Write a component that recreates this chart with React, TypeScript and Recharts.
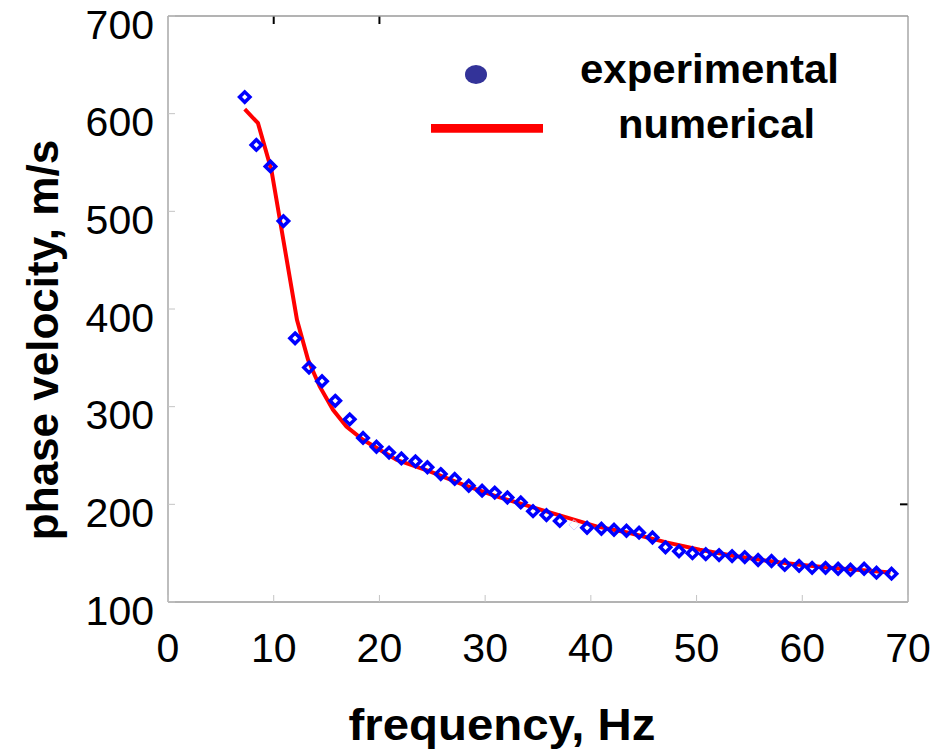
import React from 'react';
import { ComposedChart, Line, Scatter, XAxis, YAxis, Legend, ReferenceLine } from 'recharts';

// experimental points (frequency in Hz, phase velocity in m/s)
const expFreq = [
  7.26, 8.36, 9.69, 10.92, 12.02, 13.34, 14.57, 15.82, 17.19, 18.45,
  19.72, 20.91, 22.08, 23.41, 24.54, 25.8, 27.12, 28.45, 29.71, 30.91,
  32.11, 33.37, 34.53, 35.8, 37.06, 38.41, 39.64, 41.0, 42.19, 43.37,
  44.56, 45.83, 47.06, 48.34, 49.61, 50.87, 52.13, 53.36, 54.56, 55.82,
  57.09, 58.34, 59.7, 60.93, 62.2, 63.39, 64.56, 65.85, 67.02, 68.44,
];
const expVel = [
  617, 568, 546, 490, 370, 340, 326, 306, 287, 268,
  259, 253, 247, 244, 238, 231, 226, 219, 214, 212,
  207, 202, 193, 189, 183, 179, 176, 175, 174, 173,
  171, 166, 156, 152, 150, 149, 148, 147, 146, 143,
  142, 138, 137, 135, 135, 134, 133, 134, 130, 129,
];
// one point in the reference is drawn almost invisibly
const FAINT_INDEX = 25;

// numerical curve
const numFreq = [
  7.26, 8.51, 9.78, 12.2, 13.25, 14.35, 15.61, 16.88, 18.45, 21.61,
  24.76, 27.91, 31.07, 34.22, 37.37, 40.53, 43.68, 47.15, 50.3, 53.45,
  56.61, 59.76, 62.91, 66.07, 68.34,
];
const numVel = [
  604.6, 590.3, 542.5, 388.9, 348, 320.7, 296.8, 279.7, 266.1, 245.6,
  233.7, 220.1, 208.1, 197.9, 187.6, 177.4, 170.6, 161, 153.5, 147.4,
  142.3, 138.2, 134.8, 132.3, 130.3,
];

const xTicks = [0, 10, 20, 30, 40, 50, 60, 70];
const yTicks = [100, 200, 300, 400, 500, 600, 700];
const xTitle = 'frequency, Hz';
const yTitle = 'phase velocity, m/s';
const legendLabels = ['experimental', 'numerical'];

const expData = expFreq.map((f, i) => ({ f, v: expVel[i], faint: i === FAINT_INDEX }));
const numData = numFreq.map((f, i) => ({ f, v: numVel[i] }));

const FONT = '"Liberation Sans", Arial, Helvetica, sans-serif';
const BORDER = '#9a9a9a';
const INNER_TICK = '#c4c4c4';

const YTick = (props: any) => {
  const { x, y, payload } = props;
  const axisX = x + 14;
  return (
    <g>
      <line x1={axisX} x2={axisX + 7} y1={y} y2={y} stroke={INNER_TICK} strokeWidth={1} />
      <text x={x} y={y + 8} dy="0.355em" textAnchor="end" fontSize={41} fontFamily={FONT} fill="#000">
        {payload.value}
      </text>
    </g>
  );
};

const XTick = (props: any) => {
  const { x, y, payload } = props;
  return (
    <g>
      <line x1={x} x2={x} y1={y} y2={y - 7} stroke={INNER_TICK} strokeWidth={1} />
      <text x={x} y={y + 60} textAnchor="middle" fontSize={41} fontFamily={FONT} fill="#000">
        {payload.value}
      </text>
    </g>
  );
};

const Diamond = (props: any) => {
  const { cx, cy, payload } = props;
  if (cx == null || cy == null) return null;
  const r = 5.2;
  const faint = payload && payload.faint;
  return (
    <path
      d={`M${cx},${cy - r}L${cx + r},${cy}L${cx},${cy + r}L${cx - r},${cy}Z`}
      fill="none"
      stroke={faint ? '#d6d6ff' : '#0000ff'}
      strokeWidth={faint ? 1 : 3.5}
    />
  );
};

const LegendContent = () => (
  <svg width={943} height={160} style={{ display: 'block' }}>
    <ellipse cx={476} cy={74.5} rx={11} ry={9.5} fill="#333399" />
    <text x={580} y={82.7} fontSize={41} fontWeight="bold" fontFamily={FONT} fill="#000"
      textLength={259} lengthAdjust="spacingAndGlyphs">
      {legendLabels[0]}
    </text>
    <line x1={431} x2={543} y1={128.3} y2={128.3} stroke="#ff0000" strokeWidth={8.7} />
    <text x={618} y={138.3} fontSize={41} fontWeight="bold" fontFamily={FONT} fill="#000"
      textLength={197} lengthAdjust="spacingAndGlyphs">
      {legendLabels[1]}
    </text>
  </svg>
);

const YTitle = (props: any) => {
  const vb = props.viewBox || { x: 0, y: 16, width: 168, height: 586 };
  const cx = vb.x + 58;
  const cy = vb.y + vb.height / 2 + 31;
  return (
    <text x={cx} y={cy} transform={`rotate(-90, ${cx}, ${cy})`} textAnchor="middle"
      fontSize={44} fontWeight="bold" fontFamily={FONT} fill="#000">
      {yTitle}
    </text>
  );
};

const XTitle = (props: any) => {
  const vb = props.viewBox || { x: 168, y: 602, width: 740, height: 148 };
  const cx = vb.x + vb.width / 2 - 36;
  const cy = vb.y + 138;
  return (
    <text x={cx} y={cy} textAnchor="middle" fontSize={44} fontWeight="bold" fontFamily={FONT} fill="#000"
      textLength={307} lengthAdjust="spacingAndGlyphs">
      {xTitle}
    </text>
  );
};

export default function App() {
  return (
    <div style={{ position: 'absolute', left: 0, top: 0, width: 943, height: 750, background: '#fff' }}>
      <ComposedChart
        width={943}
        height={750}
        margin={{ top: 16, right: 35, bottom: 0, left: 0 }}
        style={{ fontFamily: FONT }}
      >
        <XAxis
          xAxisId="b"
          dataKey="f"
          type="number"
          domain={[0, 70]}
          ticks={xTicks}
          allowDataOverflow
          height={148}
          tickSize={0}
          tickMargin={0}
          tickLine={false}
          axisLine={{ stroke: BORDER, strokeWidth: 1.3 }}
          tick={<XTick />}
          interval={0}
          label={{ content: (p: any) => <XTitle {...p} /> }}
        />
        <XAxis
          xAxisId="t"
          orientation="top"
          type="number"
          domain={[0, 70]}
          ticks={xTicks}
          allowDataOverflow
          mirror
          height={2}
          tick={false}
          tickSize={7}
          tickLine={{ stroke: INNER_TICK }}
          axisLine={{ stroke: BORDER, strokeWidth: 1.3 }}
          interval={0}
        />
        <YAxis
          yAxisId="l"
          dataKey="v"
          type="number"
          domain={[100, 700]}
          ticks={yTicks}
          allowDataOverflow
          width={168}
          tickSize={0}
          tickMargin={14}
          tickLine={false}
          axisLine={{ stroke: BORDER, strokeWidth: 1.3 }}
          tick={<YTick />}
          interval={0}
          label={{ content: (p: any) => <YTitle {...p} /> }}
        />
        <YAxis
          yAxisId="r"
          orientation="right"
          type="number"
          domain={[100, 700]}
          ticks={yTicks}
          allowDataOverflow
          mirror
          width={2}
          tick={false}
          tickSize={7}
          tickLine={{ stroke: INNER_TICK }}
          axisLine={{ stroke: BORDER, strokeWidth: 1.3 }}
          interval={0}
        />
        <ReferenceLine xAxisId="b" yAxisId="l" segment={[{ x: 10, y: 700 }, { x: 10, y: 691.8 }]} stroke="#000" strokeWidth={2} ifOverflow="visible" />
        <ReferenceLine xAxisId="b" yAxisId="l" segment={[{ x: 20, y: 700 }, { x: 20, y: 691.8 }]} stroke="#000" strokeWidth={2} ifOverflow="visible" />
        <ReferenceLine xAxisId="b" yAxisId="l" segment={[{ x: 69.24, y: 200 }, { x: 70, y: 200 }]} stroke="#000" strokeWidth={2} ifOverflow="visible" />
        <Scatter
          name={legendLabels[0]}
          xAxisId="b"
          yAxisId="l"
          data={expData}
          dataKey="v"
          shape={<Diamond />}
          isAnimationActive={false}
        />
        <Line
          name={legendLabels[1]}
          xAxisId="b"
          yAxisId="l"
          data={numData}
          dataKey="v"
          type="linear"
          stroke="#ff0000"
          strokeWidth={4}
          dot={false}
          activeDot={false}
          isAnimationActive={false}
        />
        <Legend
          layout="horizontal"
          verticalAlign="middle"
          align="center"
          content={LegendContent}
          wrapperStyle={{ position: 'absolute', left: 0, top: 0, width: 943, height: 160, margin: 0 }}
        />
      </ComposedChart>
    </div>
  );
}
